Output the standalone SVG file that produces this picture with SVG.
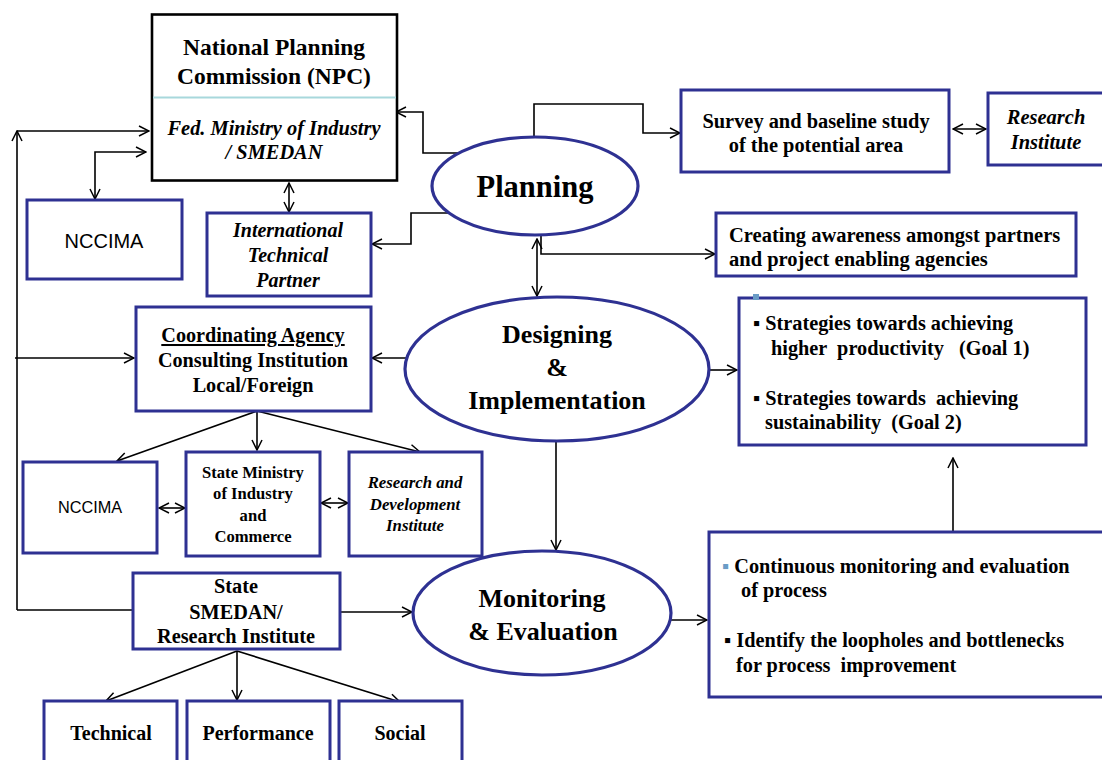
<svg xmlns="http://www.w3.org/2000/svg" width="1102" height="760" viewBox="0 0 1102 760">
<defs>
<style>
.bx{fill:#fff;stroke:#2E3192;stroke-width:3}
.el{fill:#fff;stroke:#2E3192;stroke-width:3.2}
.c{fill:none;stroke:#000;stroke-width:1.6}
.t{font-family:"Liberation Serif","Times New Roman",serif;font-weight:bold;fill:#000}
.i{font-style:italic}
.a{font-family:"Liberation Sans",Arial,sans-serif;fill:#000}
.m{text-anchor:middle}
</style>
<marker id="ah" viewBox="0 0 12 12" refX="11" refY="6" markerWidth="12" markerHeight="12" markerUnits="userSpaceOnUse" orient="auto-start-reverse">
<path d="M1,1 L11,6 L1,11" fill="none" stroke="#000" stroke-width="1.5"/>
</marker>
</defs>
<rect width="1102" height="760" fill="#fff"/>

<g id="connectors">
<path class="c" d="M17,610 L17,131" marker-end="url(#ah)"/>
<path class="c" d="M17,131 L149,131" marker-end="url(#ah)"/>
<path class="c" d="M132,610 L17,610"/>
<path class="c" d="M15,358 L134,358" marker-end="url(#ah)"/>
<path class="c" d="M146,152 L95,152 L95,199" marker-start="url(#ah)" marker-end="url(#ah)"/>
<path class="c" d="M289,183 L289,212" marker-start="url(#ah)" marker-end="url(#ah)"/>
<path class="c" d="M458,153 L423,153 L423,112 L396,112" marker-end="url(#ah)"/>
<path class="c" d="M534,137 L534,104 L643,104 L643,133 L680,133" marker-end="url(#ah)"/>
<path class="c" d="M449,213 L411,213 L411,244 L372,244" marker-end="url(#ah)"/>
<path class="c" d="M953,129 L986,129" marker-start="url(#ah)" marker-end="url(#ah)"/>
<path class="c" d="M541,234 L541,254 L715,254" marker-end="url(#ah)"/>
<path class="c" d="M537,239 L537,296" marker-start="url(#ah)" marker-end="url(#ah)"/>
<path class="c" d="M406,358 L372,358" marker-end="url(#ah)"/>
<path class="c" d="M709,370 L737,370" marker-end="url(#ah)"/>
<path class="c" d="M556,441 L556,550" marker-end="url(#ah)"/>
<path class="c" d="M257,411 L117,461" marker-end="url(#ah)"/>
<path class="c" d="M257,411 L257,450" marker-end="url(#ah)"/>
<path class="c" d="M257,411 L420,452" marker-end="url(#ah)"/>
<path class="c" d="M159,508 L185,508" marker-start="url(#ah)" marker-end="url(#ah)"/>
<path class="c" d="M321,503 L348,503" marker-start="url(#ah)" marker-end="url(#ah)"/>
<path class="c" d="M341,612 L412,612" marker-end="url(#ah)"/>
<path class="c" d="M670,620 L707,620" marker-end="url(#ah)"/>
<path class="c" d="M953,531 L953,458" marker-end="url(#ah)"/>
<path class="c" d="M237,651 L106,701" marker-end="url(#ah)"/>
<path class="c" d="M237,651 L237,700" marker-end="url(#ah)"/>
<path class="c" d="M237,651 L400,702" marker-end="url(#ah)"/>
</g>

<g id="npc">
<rect x="152" y="14.5" width="245" height="166" fill="#fff" stroke="#000" stroke-width="2.6"/>
<line x1="153" y1="97.5" x2="396" y2="97.5" stroke="#A8D8DC" stroke-width="2"/>
<text class="t m" x="274" y="55" font-size="23.5">National Planning</text>
<text class="t m" x="274" y="84" font-size="23.5">Commission (NPC)</text>
<text class="t i m" x="274" y="135" font-size="20.4">Fed. Ministry of Industry</text>
<text class="t i m" x="274" y="159" font-size="20.4">/ SMEDAN</text>
</g>

<g id="nccima-top">
<rect class="bx" x="27" y="200" width="155" height="79"/>
<text class="a m" x="104" y="248" font-size="20">NCCIMA</text>
</g>

<g id="itp">
<rect class="bx" x="207" y="213" width="164" height="83"/>
<text class="t i m" x="288" y="237" font-size="20">International</text>
<text class="t i m" x="288" y="262" font-size="20">Technical</text>
<text class="t i m" x="288" y="287" font-size="20">Partner</text>
</g>

<g id="planning">
<ellipse class="el" cx="535" cy="186" rx="103" ry="49"/>
<text class="t m" x="535" y="197" font-size="30.5">Planning</text>
</g>

<g id="survey">
<rect class="bx" x="681" y="90" width="268" height="82"/>
<text class="t m" x="816" y="128" font-size="20.4">Survey and baseline study</text>
<text class="t m" x="816" y="152" font-size="20.4">of the potential area</text>
</g>

<g id="research-institute">
<rect class="bx" x="988" y="93" width="130" height="72"/>
<text class="t i m" x="1046" y="124" font-size="20.5">Research</text>
<text class="t i m" x="1046" y="149" font-size="20.5">Institute</text>
</g>

<g id="awareness">
<rect class="bx" x="716" y="213" width="360" height="63"/>
<text class="t" x="729" y="242" font-size="20.5">Creating awareness amongst partners</text>
<text class="t" x="729" y="266" font-size="20.5">and project enabling agencies</text>
</g>

<g id="designing">
<ellipse class="el" cx="557" cy="369" rx="152" ry="72"/>
<text class="t m" x="557" y="343" font-size="26">Designing</text>
<text class="t m" x="557" y="376" font-size="26">&amp;</text>
<text class="t m" x="557" y="409" font-size="26">Implementation</text>
</g>

<g id="strategies">
<rect class="bx" x="739" y="298" width="347" height="147"/>
<rect x="753" y="294" width="6" height="6" fill="#6A9CC6"/>
<text class="t" x="753" y="330" font-size="20.3">▪ Strategies towards achieving</text>
<text class="t" x="771" y="355" font-size="20.3" xml:space="preserve">higher  productivity   (Goal 1)</text>
<text class="t" x="753" y="405" font-size="20.3" xml:space="preserve">▪ Strategies towards  achieving</text>
<text class="t" x="765" y="429" font-size="20.3" xml:space="preserve">sustainability  (Goal 2)</text>
</g>

<g id="coordinating">
<rect class="bx" x="136" y="307" width="235" height="104"/>
<text class="t m" x="253" y="342" font-size="20.2" text-decoration="underline">Coordinating Agency</text>
<text class="t m" x="253" y="367" font-size="20.2">Consulting Institution</text>
<text class="t m" x="253" y="392" font-size="20.2">Local/Foreign</text>
</g>

<g id="nccima-bottom">
<rect class="bx" x="23" y="462" width="134" height="91"/>
<text class="a m" x="90" y="513" font-size="16.3">NCCIMA</text>
</g>

<g id="state-ministry">
<rect class="bx" x="186" y="452" width="134" height="104"/>
<text class="t m" x="253" y="478" font-size="16.6">State Ministry</text>
<text class="t m" x="253" y="499" font-size="16.6">of Industry</text>
<text class="t m" x="253" y="521" font-size="16.6">and</text>
<text class="t m" x="253" y="542" font-size="16.6">Commerce</text>
</g>

<g id="rnd">
<rect class="bx" x="349" y="452" width="133" height="104"/>
<text class="t i m" x="415" y="488" font-size="16.8">Research and</text>
<text class="t i m" x="415" y="510" font-size="16.8">Development</text>
<text class="t i m" x="415" y="531" font-size="16.8">Institute</text>
</g>

<g id="state-smedan">
<rect class="bx" x="133" y="573" width="207" height="76"/>
<text class="t m" x="236" y="593" font-size="20.3">State</text>
<text class="t m" x="236" y="619" font-size="20.3">SMEDAN/</text>
<text class="t m" x="236" y="643" font-size="20.3">Research Institute</text>
</g>

<g id="monitoring">
<ellipse class="el" cx="542" cy="613" rx="129" ry="62"/>
<text class="t m" x="542" y="607" font-size="26">Monitoring</text>
<text class="t m" x="543" y="640" font-size="26">&amp; Evaluation</text>
</g>

<g id="me-box">
<rect class="bx" x="709" y="532" width="410" height="165"/>
<text class="t" x="722" y="573" font-size="20.3"><tspan fill="#6A9CC6">▪</tspan> Continuous monitoring and evaluation</text>
<text class="t" x="741" y="597" font-size="20.3">of process</text>
<text class="t" x="724" y="647" font-size="20.3">▪ Identify the loopholes and bottlenecks</text>
<text class="t" x="736" y="672" font-size="20.3" xml:space="preserve">for process  improvement</text>
</g>

<g id="technical">
<rect class="bx" x="44" y="701" width="133" height="70"/>
<text class="t m" x="111" y="740" font-size="20">Technical</text>
</g>
<g id="performance">
<rect class="bx" x="187" y="701" width="143" height="70"/>
<text class="t m" x="258" y="740" font-size="20">Performance</text>
</g>
<g id="social">
<rect class="bx" x="339" y="701" width="123" height="70"/>
<text class="t m" x="400" y="740" font-size="20">Social</text>
</g>
</svg>
